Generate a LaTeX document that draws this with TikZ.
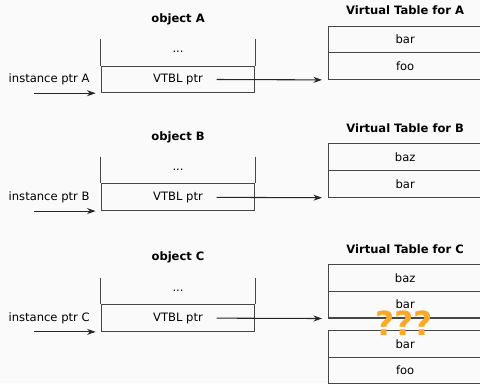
\documentclass[tikz,border=0pt]{standalone}
\usepackage{fontspec}
\setmainfont{DejaVu Sans}
\usepackage{xcolor}
\usepackage{tikz}
\usetikzlibrary{positioning,arrows.meta}
\definecolor{linegray}{RGB}{70,70,70}
\definecolor{warn}{RGB}{251,168,40}
\definecolor{paper}{RGB}{250,250,250}
\tikzstyle{cell} = [rectangle, minimum width=4.07cm, minimum height=0.705cm,%
    inner sep=0pt, text centered, draw=linegray, line width=0.8pt]
\tikzstyle{open} = [cell, draw=none]
\tikzstyle{title} = [font=\fontsize{8.7}{10}\selectfont\bfseries]
\tikzstyle{side} = [draw=linegray, line width=0.8pt]
\tikzstyle{ptr} = [line width=0.8pt, ->, >={Stealth[length=6.5pt,width=4.5pt]}, draw=black!85]

\begin{document}
\begin{tikzpicture}[font=\fontsize{8.7}{10}\selectfont]
        \clip (0,0) rectangle (12.7,-10.134);
        \fill [paper] (0,0) rectangle (12.7,-10.134);
        % object A
        \node (vtblA) [cell] at (4.71,-2.10) {VTBL ptr};
        \node (dotsA) [open, above of=vtblA, node distance=0.705cm] {\raisebox{1.5pt}{...}};
        \draw [side] (dotsA.north west) -- (vtblA.north west) (dotsA.north east) -- (vtblA.north east);
        \node (objA) [title, above of=dotsA, node distance=0.89cm] {object A};
        \node (instA) [left of=vtblA, node distance=3.41cm] {instance ptr A};
        \coordinate [left=1.75cm of vtblA.south west] (inA);
        \draw [ptr, shorten >=0.13cm] (inA) -- (vtblA.south west);
        \node (tabA2) [cell, right of=vtblA, node distance=6.01cm, yshift=0.3525cm] {foo};
        \node (tabA1) [cell, above of=tabA2, node distance=0.705cm] {bar};
        \node (vtA) [title, above of=tabA1, node distance=0.77cm] {Virtual Table for A};
        \draw [ptr, shorten <=1.02cm, shorten >=0.15cm] (vtblA.center) -- (tabA2.south west);
        % object B
        \node (vtblB) [cell] at (4.71,-5.218) {VTBL ptr};
        \node (dotsB) [open, above of=vtblB, node distance=0.705cm] {\raisebox{1.5pt}{...}};
        \draw [side] (dotsB.north west) -- (vtblB.north west) (dotsB.north east) -- (vtblB.north east);
        \node (objB) [title, above of=dotsB, node distance=0.89cm] {object B};
        \node (instB) [left of=vtblB, node distance=3.41cm] {instance ptr B};
        \coordinate [left=1.75cm of vtblB.south west] (inB);
        \draw [ptr, shorten >=0.13cm] (inB) -- (vtblB.south west);
        \node (tabB2) [cell, right of=vtblB, node distance=6.01cm, yshift=0.3525cm] {bar};
        \node (tabB1) [cell, above of=tabB2, node distance=0.705cm] {baz};
        \node (vtB) [title, above of=tabB1, node distance=0.77cm] {Virtual Table for B};
        \draw [ptr, shorten <=1.02cm, shorten >=0.15cm] (vtblB.center) -- (tabB2.south west);
        % object C
        \node (vtblC) [cell] at (4.71,-8.414) {VTBL ptr};
        \node (dotsC) [open, above of=vtblC, node distance=0.705cm] {\raisebox{1.5pt}{...}};
        \draw [side] (dotsC.north west) -- (vtblC.north west) (dotsC.north east) -- (vtblC.north east);
        \node (objC) [title, above of=dotsC, node distance=0.89cm] {object C};
        \node (instC) [left of=vtblC, node distance=3.41cm] {instance ptr C};
        \coordinate [left=1.75cm of vtblC.south west] (inC);
        \draw [ptr, shorten >=0.13cm] (inC) -- (vtblC.south west);
        \node (tabC2) [cell, right of=vtblC, node distance=6.01cm, yshift=0.3525cm] {bar};
        \node (tabC1) [cell, above of=tabC2, node distance=0.705cm] {baz};
        \node (vtC) [title, above of=tabC1, node distance=0.77cm] {Virtual Table for C};
        \draw [ptr, shorten <=1.02cm, shorten >=0.15cm] (vtblC.center) -- (tabC2.south west);
        \node (tabC3) [cell, below of=tabC2, node distance=1.04cm] {bar};
        \node (tabC4) [cell, below of=tabC3, node distance=0.705cm] {foo};
        \node (huh) [below of=tabC2, node distance=0.5cm, xshift=-0.03cm, text=warn,%
            font=\fontsize{25}{30}\selectfont\bfseries] {???};
    \end{tikzpicture}
\end{document}
